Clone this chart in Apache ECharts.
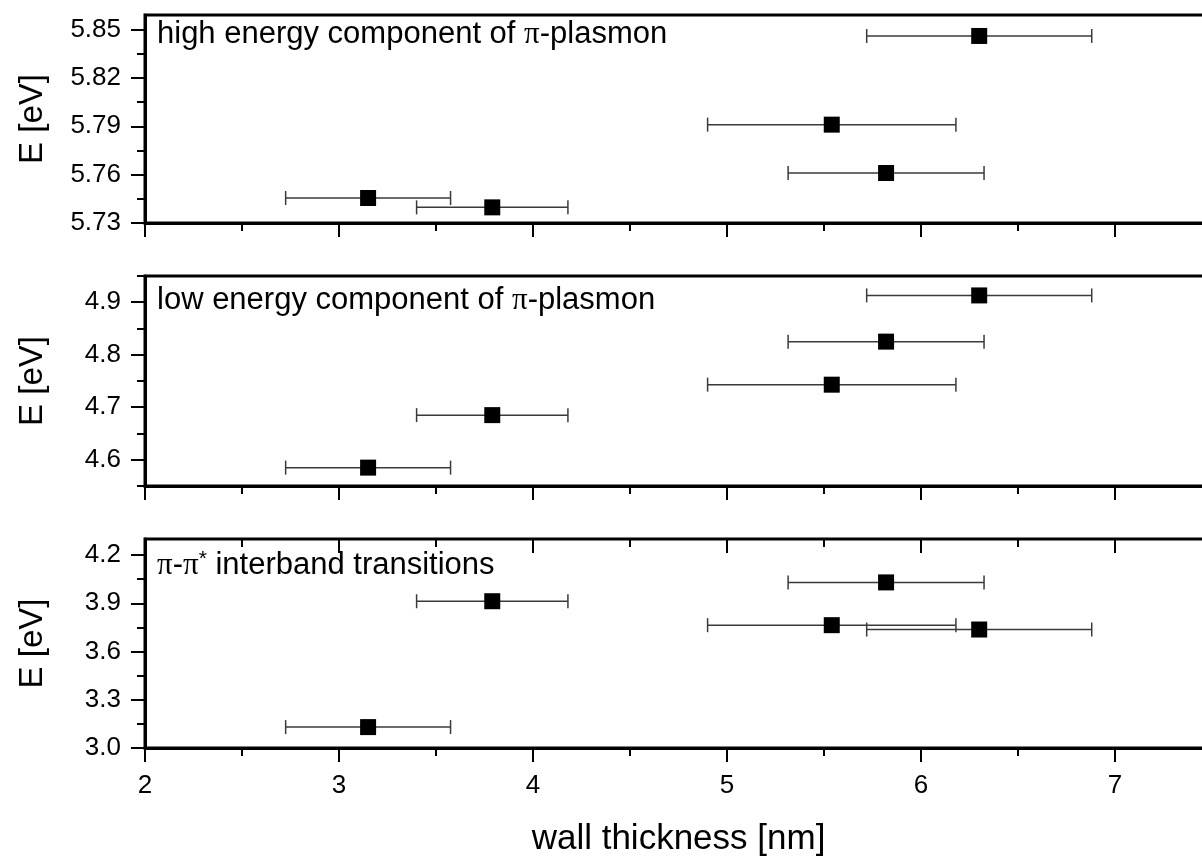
<!DOCTYPE html>
<html>
<head>
<meta charset="utf-8">
<script src="https://cdn.jsdelivr.net/npm/echarts@6/dist/echarts.min.js"></script>
<style>
  html, body { margin: 0; padding: 0; background: #fff; }
  #chart { width: 1202px; height: 859px; }
</style>
</head>
<body>
<div id="chart"></div>
<script>
// wall thickness of the tubes and its uncertainty
const wallThickness = [3.15, 3.79, 5.54, 5.82, 6.30];
const thicknessError = [0.425, 0.39, 0.64, 0.505, 0.58];

// peak energies [eV]
const highEnergy = [5.7455, 5.7397, 5.791, 5.761, 5.846];
const lowEnergy = [4.585, 4.685, 4.743, 4.825, 4.913];
const interband = [3.13, 3.913, 3.764, 4.03, 3.737];

// tick positions
const xMajor = [2, 3, 4, 5, 6, 7];
const xMinor = [2.5, 3.5, 4.5, 5.5, 6.5, 7.5];
const highMajor = [5.73, 5.76, 5.79, 5.82, 5.85];
const highMinor = [5.745, 5.775, 5.805, 5.835];
const lowMajor = [4.6, 4.7, 4.8, 4.9];
const lowMinor = [4.55, 4.65, 4.75, 4.85, 4.95];
const interMajor = [3.0, 3.3, 3.6, 3.9, 4.2];
const interMinor = [3.15, 3.45, 3.75, 4.05];

const panels = [
  { values: highEnergy, min: 5.73, max: 5.859, major: highMajor, minor: highMinor, digits: 2,
    top: 15, height: 208, label: 'high energy component of {pi|π}-plasmon', ly: 37 },
  { values: lowEnergy, min: 4.55, max: 4.95, major: lowMajor, minor: lowMinor, digits: 1,
    top: 276, height: 210, label: 'low energy component of {pi|π}-plasmon', ly: 303 },
  { values: interband, min: 3.0, max: 4.3, major: interMajor, minor: interMinor, digits: 1,
    top: 539, height: 209, label: '{pi|π}-{pi|π}{sup|*} interband transitions', ly: 567 }
];

const font = "'Liberation Sans', Arial, sans-serif";
const chart = echarts.init(document.getElementById('chart'));

let grids = [], xAxes = [], yAxes = [], series = [], texts = [];

panels.forEach((p, i) => {
  const last = i === panels.length - 1;
  // plot runs past the right edge of the picture (x up to 7.5)
  grids.push({
    left: 145, width: 1067, top: p.top, height: p.height,
    outerBoundsMode: 'none', containLabel: false,
    show: true, borderColor: '#000', borderWidth: 3, backgroundColor: 'transparent'
  });

  const xBase = {
    type: 'value', gridIndex: i, min: 2, max: 7.5, position: 'bottom',
    splitLine: { show: false }
  };
  // bottom axis with major ticks (labels only on the last panel)
  xAxes.push(Object.assign({}, xBase, {
    axisLine: { show: true, onZero: false, lineStyle: { color: '#000', width: 3 } },
    axisTick: { show: true, customValues: xMajor, length: 14, lineStyle: { color: '#000', width: 2 } },
    axisLabel: { show: last, customValues: xMajor, margin: 25, fontSize: 26, color: '#000', fontFamily: font },
    name: last ? 'wall thickness [nm]' : '', nameLocation: 'middle', nameGap: 74,
    nameTextStyle: { fontSize: 35, color: '#000', fontFamily: font }
  }));
  // bottom minor ticks
  xAxes.push(Object.assign({}, xBase, {
    axisLine: { show: false, onZero: false },
    axisTick: { show: true, customValues: xMinor, length: 8, lineStyle: { color: '#000', width: 2 } },
    axisLabel: { show: false }
  }));
  // top inward ticks only on last panel
  xAxes.push(Object.assign({}, xBase, {
    position: 'top',
    axisLine: { show: false, onZero: false },
    axisTick: { show: last, inside: true, customValues: xMajor, length: 14, lineStyle: { color: '#000', width: 2 } },
    axisLabel: { show: false }
  }));
  xAxes.push(Object.assign({}, xBase, {
    position: 'top',
    axisLine: { show: false, onZero: false },
    axisTick: { show: last, inside: true, customValues: xMinor, length: 8, lineStyle: { color: '#000', width: 2 } },
    axisLabel: { show: false }
  }));

  const yBase = { type: 'value', gridIndex: i, min: p.min, max: p.max, position: 'left', splitLine: { show: false } };
  yAxes.push(Object.assign({}, yBase, {
    axisLine: { show: true, onZero: false, lineStyle: { color: '#000', width: 3 } },
    axisTick: { show: true, customValues: p.major, length: 14, lineStyle: { color: '#000', width: 2 } },
    axisLabel: {
      show: true, customValues: p.major, margin: 24, fontSize: 26, color: '#000', fontFamily: font,
      formatter: v => v.toFixed(p.digits)
    },
    name: 'E [eV]', nameLocation: 'middle', nameGap: 96,
    nameTextStyle: { fontSize: 33, color: '#000', fontFamily: font }
  }));
  yAxes.push(Object.assign({}, yBase, {
    axisLine: { show: false, onZero: false },
    axisTick: { show: true, customValues: p.minor, length: 8, lineStyle: { color: '#000', width: 2 } },
    axisLabel: { show: false }
  }));

  const pts = wallThickness.map((x, k) => [x, p.values[k], thicknessError[k]]);

  series.push({
    type: 'custom', xAxisIndex: i * 4, yAxisIndex: i * 2, data: pts, z: 2,
    renderItem: (params, api) => {
      const x = api.value(0), y = api.value(1), e = api.value(2);
      const a = api.coord([x - e, y]);
      const b = api.coord([x + e, y]);
      const style = { stroke: '#3a3a3a', lineWidth: 1.5 };
      return {
        type: 'group',
        children: [
          { type: 'line', shape: { x1: a[0], y1: a[1], x2: b[0], y2: b[1] }, style },
          { type: 'line', shape: { x1: a[0], y1: a[1] - 7, x2: a[0], y2: a[1] + 7 }, style },
          { type: 'line', shape: { x1: b[0], y1: b[1] - 7, x2: b[0], y2: b[1] + 7 }, style }
        ]
      };
    }
  });
  series.push({
    type: 'scatter', xAxisIndex: i * 4, yAxisIndex: i * 2, z: 3,
    data: pts.map(d => [d[0], d[1]]),
    symbol: 'rect', symbolSize: 16,
    itemStyle: { color: '#000', opacity: 1 }
  });

  texts.push({
    type: 'text', left: 157, top: p.ly - 18,
    style: {
      text: p.label, fill: '#000', font: '31px ' + font,
      rich: {
        pi: { fontFamily: "'Liberation Serif', serif", fontSize: 31, fill: '#000' },
        sup: { fontSize: 21, verticalAlign: 'top', padding: [0, 0, 12, 0], fill: '#000' }
      }
    }
  });
});

const option = {
  animation: false,
  grid: grids,
  xAxis: xAxes,
  yAxis: yAxes,
  series: series,
  graphic: texts
};
chart.setOption(option);
</script>
</body>
</html>
